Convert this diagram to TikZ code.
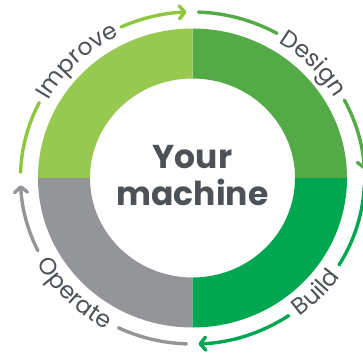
\documentclass[tikz,border=0pt]{standalone}
\usepackage{fontspec}
\setmainfont{Poppins}
\usetikzlibrary{arrows.meta,decorations.text}
\definecolor{cImp}{HTML}{97C950}
\definecolor{cDes}{HTML}{55AA48}
\definecolor{cBui}{HTML}{00A650}
\definecolor{cOpe}{HTML}{939598}
\definecolor{aImp}{HTML}{8DC63F}
\definecolor{txt}{HTML}{4D5258}
\newcommand\lblfont{\fontsize{23.5}{23.5}\selectfont\color{txt}}
\begin{document}
\begin{tikzpicture}[x=1pt,y=1pt,
  cyc/.style={line width=3.4pt,line cap=round},
  tip/.style={-{Straight Barb[length=5.5pt,width=13pt,round]}},
  lbl/.style={decorate,decoration={text along path,text align=center,text={|\lblfont|#1}}},
  centertxt/.style={anchor=base,text=txt,font=\fontsize{33}{36}\selectfont\bfseries,inner sep=0pt}]
\useasboundingbox (-192.5,-176) rectangle (170.5,178);
% ring quadrants
\fill[cDes] (154.5,0) arc[start angle=0,end angle=90,x radius=154.5,y radius=149.5] -- (0,99.5) arc[start angle=90,end angle=0,x radius=102.5,y radius=99.5] -- cycle;
\fill[cImp] (0,149.5) arc[start angle=90,end angle=180,x radius=154.5,y radius=149.5] -- (-102.5,0) arc[start angle=180,end angle=90,x radius=102.5,y radius=99.5] -- cycle;
\fill[cOpe] (-154.5,0) arc[start angle=180,end angle=270,x radius=154.5,y radius=149.5] -- (0,-99.5) arc[start angle=270,end angle=180,x radius=102.5,y radius=99.5] -- cycle;
\fill[cBui] (0,-149.5) arc[start angle=270,end angle=360,x radius=154.5,y radius=149.5] -- (102.5,0) arc[start angle=360,end angle=270,x radius=102.5,y radius=99.5] -- cycle;
% center text
\node[centertxt] (your) at (0,10) {Your};
\node[centertxt] (machine) at (0,-27) {machine};
% Improve arrow
\draw[cyc,aImp] (178:172pt and 166pt) arc[start angle=178,end angle=153,x radius=172,y radius=166];
\draw[cyc,aImp,tip] (114.5:172pt and 166pt) arc[start angle=114.5,end angle=92,x radius=172,y radius=166];
\path[lbl=Improve] (158.75:165pt and 159pt) arc[start angle=158.75,end angle=108.75,x radius=165,y radius=159];
% Design arrow
\draw[cyc,cDes] (88:172pt and 166pt) arc[start angle=88,end angle=60.6,x radius=172,y radius=166];
\draw[cyc,cDes,tip] (28:172pt and 166pt) arc[start angle=28,end angle=3,x radius=172,y radius=166];
\path[lbl=Design] (69.3:165pt and 159pt) arc[start angle=69.3,end angle=19.3,x radius=165,y radius=159];
% Build arrow
\draw[cyc,cBui] (-2.5:172pt and 166pt) arc[start angle=-2.5,end angle=-31.6,x radius=172,y radius=166];
\draw[cyc,cBui,tip] (-56:172pt and 166pt) arc[start angle=-56,end angle=-88,x radius=172,y radius=166];
\path[lbl=Build] (-68.8:179pt and 173pt) arc[start angle=-68.8,end angle=-18.8,x radius=179,y radius=173];
% Operate arrow
\draw[cyc,cOpe] (-92:172pt and 166pt) arc[start angle=-92,end angle=-115.5,x radius=172,y radius=166];
\draw[cyc,cOpe,tip] (-154:172pt and 166pt) arc[start angle=-154,end angle=-177.5,x radius=172,y radius=166];
\path[lbl=Operate] (-159.75:179pt and 173pt) arc[start angle=-159.75,end angle=-109.75,x radius=179,y radius=173];
\end{tikzpicture}
\end{document}
